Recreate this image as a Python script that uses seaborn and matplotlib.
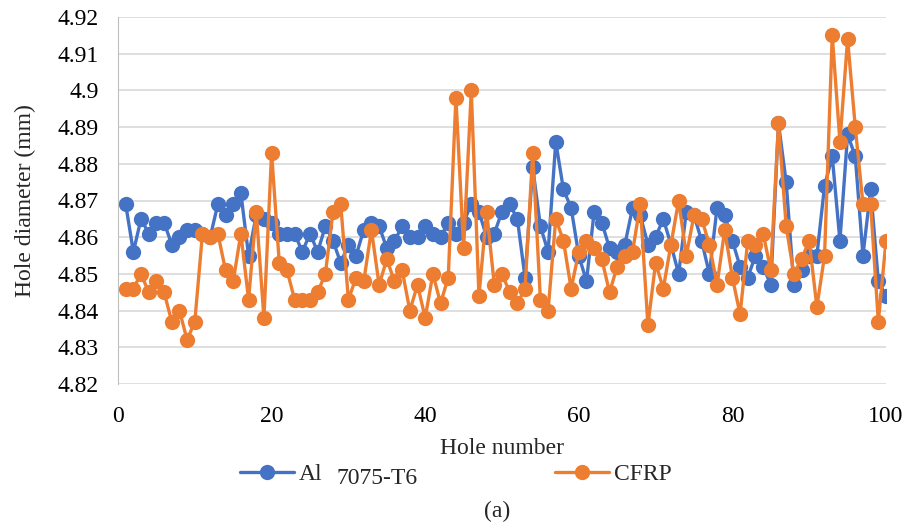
import numpy as np
import pandas as pd
import matplotlib
matplotlib.use("Agg")
import matplotlib.pyplot as plt
import seaborn as sns
from matplotlib.lines import Line2D

holes = list(range(1, 101))

al_7075 = [4.869, 4.856, 4.865, 4.861, 4.864, 4.864, 4.858, 4.860, 4.862, 4.862,
           4.861, 4.860, 4.869, 4.866, 4.869, 4.872, 4.855, 4.866, 4.865, 4.864,
           4.861, 4.861, 4.861, 4.856, 4.861, 4.856, 4.863, 4.859, 4.853, 4.858,
           4.855, 4.862, 4.864, 4.863, 4.857, 4.859, 4.863, 4.860, 4.860, 4.863,
           4.861, 4.860, 4.864, 4.861, 4.864, 4.869, 4.867, 4.860, 4.861, 4.867,
           4.869, 4.865, 4.849, 4.879, 4.863, 4.856, 4.886, 4.873, 4.868, 4.855,
           4.848, 4.867, 4.864, 4.857, 4.856, 4.858, 4.868, 4.866, 4.858, 4.860,
           4.865, 4.858, 4.850, 4.867, 4.866, 4.859, 4.850, 4.868, 4.866, 4.859,
           4.852, 4.849, 4.855, 4.852, 4.847, 4.891, 4.875, 4.847, 4.851, 4.855,
           4.855, 4.874, 4.882, 4.859, 4.888, 4.882, 4.855, 4.873, 4.848, 4.844]

cfrp = [4.846, 4.846, 4.850, 4.845, 4.848, 4.845, 4.837, 4.840, 4.832, 4.837,
        4.861, 4.860, 4.861, 4.851, 4.848, 4.861, 4.843, 4.867, 4.838, 4.883,
        4.853, 4.851, 4.843, 4.843, 4.843, 4.845, 4.850, 4.867, 4.869, 4.843,
        4.849, 4.848, 4.862, 4.847, 4.854, 4.848, 4.851, 4.840, 4.847, 4.838,
        4.850, 4.842, 4.849, 4.898, 4.857, 4.900, 4.844, 4.867, 4.847, 4.850,
        4.845, 4.842, 4.846, 4.883, 4.843, 4.840, 4.865, 4.859, 4.846, 4.856,
        4.859, 4.857, 4.854, 4.845, 4.852, 4.855, 4.856, 4.869, 4.836, 4.853,
        4.846, 4.858, 4.870, 4.855, 4.866, 4.865, 4.858, 4.847, 4.862, 4.849,
        4.839, 4.859, 4.858, 4.861, 4.851, 4.891, 4.863, 4.850, 4.854, 4.859,
        4.841, 4.855, 4.915, 4.886, 4.914, 4.890, 4.869, 4.869, 4.837, 4.859]

series_names = ["Al 7075-T6", "CFRP"]
colors = ["#4472C4", "#ED7D31"]

df = pd.DataFrame({
    "hole": holes * 2,
    "diameter": al_7075 + cfrp,
    "material": [series_names[0]] * len(holes) + [series_names[1]] * len(holes),
})

sns.set_style("white")
plt.rcParams["font.family"] = ["Liberation Serif", "DejaVu Serif"]
FS = 17

W, H = 907, 531
fig = plt.figure(figsize=(W / 100, H / 100), dpi=100)
ax = fig.add_axes([118 / W, 1 - 384 / H, (886 - 118) / W, (384 - 17) / H])

sns.lineplot(data=df, x="hole", y="diameter", hue="material",
             palette=dict(zip(series_names, colors)), marker="o",
             markersize=11, markeredgewidth=0, linewidth=2.4,
             legend=False, ax=ax)

yticks = np.round(np.arange(4.82, 4.9201, 0.01), 2)
ax.set_xlim(0, 100)
ax.set_ylim(4.82, 4.92)
ax.set_xticks(range(0, 101, 20))
ax.set_yticks(yticks)
ax.set_yticklabels([f"{v:g}" for v in yticks])
ax.yaxis.grid(True, color="#d9d9d9", linewidth=1.2)
ax.set_axisbelow(True)
for s in ["top", "right", "bottom"]:
    ax.spines[s].set_visible(False)
ax.spines["left"].set_color("#bfbfbf")
ax.tick_params(axis="both", length=0, labelsize=FS, colors="black")
ax.tick_params(axis="x", pad=16)
ax.tick_params(axis="y", pad=14)
ax.set_xlabel("Hole number", fontsize=FS, labelpad=8)
ax.set_ylabel("Hole diameter (mm)", fontsize=FS, labelpad=15)

# legend drawn as two entries below the axis, like the original
blue_h = Line2D([0], [0], color=colors[0], marker="o", markersize=11, linewidth=2.4,
                markeredgewidth=0)
orange_h = Line2D([0], [0], color=colors[1], marker="o", markersize=11, linewidth=2.4,
                  markeredgewidth=0)
fig.legend([blue_h], ["Al"], loc="center left", bbox_to_anchor=(240 / W, 1 - 474 / H),
           frameon=False, fontsize=FS, handlelength=2.3, handletextpad=0.2,
           borderpad=0, borderaxespad=0)
fig.text(337 / W, 1 - 479 / H, "7075-T6", ha="left", va="center", fontsize=FS)
fig.legend([orange_h], ["CFRP"], loc="center left", bbox_to_anchor=(555 / W, 1 - 474 / H),
           frameon=False, fontsize=FS, handlelength=2.3, handletextpad=0.2,
           borderpad=0, borderaxespad=0)

fig.text(497 / W, 1 - 511 / H, "(a)", ha="center", va="center", fontsize=FS)

fig.savefig("out.png", dpi=100)
